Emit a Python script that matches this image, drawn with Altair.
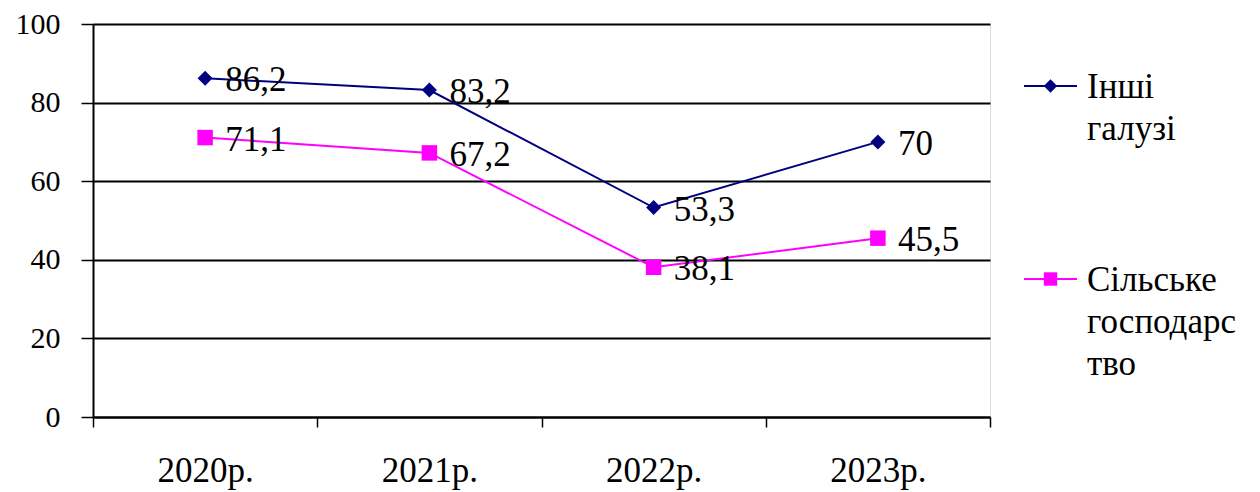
import altair as alt
import pandas as pd

years = ["2020р.", "2021р.", "2022р.", "2023р."]
series_names = ["Інші галузі", "Сільське господарство"]
other_values = [86.2, 83.2, 53.3, 70]
agri_values = [71.1, 67.2, 38.1, 45.5]
y_ticks = [0, 20, 40, 60, 80, 100]
legend_lines = [["Інші", "галузі"], ["Сільське", "господарс", "тво"]]

rows = []
for s, vals in zip(series_names, [other_values, agri_values]):
    for yr, v in zip(years, vals):
        rows.append({"year": yr, "series": s, "value": v,
                     "label": f"{v:g}".replace(".", ",")})
df = pd.DataFrame(rows)

FONT = "Liberation Serif, Times New Roman, DejaVu Serif, serif"
colors = ["#000080", "#FF00FF"]
shapes = ["diamond", "square"]
point_sizes = [225, 240]
color_scale = alt.Scale(domain=series_names, range=colors)

x_enc = alt.X("year:N", sort=years, bandPosition=0.5,
              scale=alt.Scale(type="band", paddingInner=0, paddingOuter=0),
              axis=alt.Axis(title=None, tickBand="extent", labelAngle=0,
                            labelFont=FONT, labelFontSize=35, labelColor="black",
                            labelPadding=26, labelBaseline="top",
                            tickSize=10, tickColor="black", tickWidth=1.5,
                            domainColor="black", domainWidth=2, grid=False))
y_enc = alt.Y("value:Q", scale=alt.Scale(domain=[0, 100], nice=False),
              axis=alt.Axis(title=None, values=y_ticks, grid=True,
                            gridColor="black", gridWidth=2, gridOpacity=1,
                            domainColor="black", domainWidth=2,
                            tickColor="black", tickSize=12, tickWidth=1.5,
                            labelFont=FONT, labelFontSize=30, labelColor="black",
                            labelPadding=21))

base = alt.Chart(df)

layers = [base.mark_line(strokeWidth=2).encode(
    x=x_enc, y=y_enc,
    color=alt.Color("series:N", scale=color_scale, legend=None),
)]

for s, shp, sz in zip(series_names, shapes, point_sizes):
    layers.append(base.transform_filter(alt.datum.series == s).mark_point(
        filled=True, shape=shp, size=sz, opacity=1).encode(
        x=x_enc, y=y_enc,
        color=alt.Color("series:N", scale=color_scale, legend=None),
    ))

layers.append(base.mark_text(align="left", baseline="middle", dx=20, dy=2,
                             font=FONT, fontSize=35, color="black").encode(
    x=x_enc, y=y_enc, text="label:N",
))

# manual legend (layout in pixels relative to plot area)
one = alt.Chart(pd.DataFrame({"k": [0]}))
LEG_X0, LEG_X1, LEG_TX = 931, 984, 994
LEG_Y = [62, 255]
LINE_H = 42
for s, col, shp, lines_txt, ly in zip(series_names, colors, shapes, legend_lines, LEG_Y):
    layers.append(one.mark_rule(color=col, strokeWidth=2).encode(
        x=alt.value(LEG_X0), x2=alt.value(LEG_X1), y=alt.value(ly)))
    layers.append(one.mark_point(filled=True, shape=shp, size=180, color=col, opacity=1).encode(
        x=alt.value((LEG_X0 + LEG_X1) / 2), y=alt.value(ly)))
    for i, t in enumerate(lines_txt):
        layers.append(one.mark_text(text=t, align="left", baseline="alphabetic",
                                    font=FONT, fontSize=35, color="black").encode(
            x=alt.value(LEG_TX), y=alt.value(ly + 12 + i * LINE_H)))

chart = alt.layer(*layers).properties(
    width=897, height=393,
    autosize=alt.AutoSizeParams(type="none"),
    padding={"left": 85, "top": 16, "right": 262, "bottom": 75},
).configure_view(stroke=None).configure(background="white")

chart.save("out.html", embed_options={"renderer": "svg", "actions": False})
